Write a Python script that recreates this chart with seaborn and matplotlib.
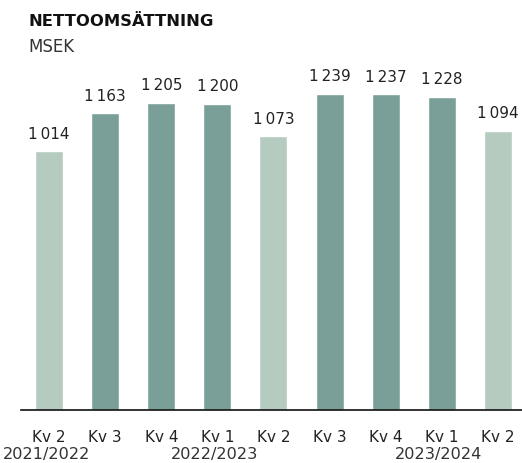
import matplotlib
matplotlib.use('Agg')

import matplotlib.pyplot as plt
import seaborn as sns
import pandas as pd

quarters = ["Kv 2", "Kv 3", "Kv 4", "Kv 1", "Kv 2", "Kv 3", "Kv 4", "Kv 1", "Kv 2"]
sales = [1014, 1163, 1205, 1200, 1073, 1239, 1237, 1228, 1094]
years = ["2021/2022", "", "", "2022/2023", "", "", "", "2023/2024", ""]
is_q2 = [True, False, False, False, True, False, False, False, True]

LIGHT = "#b6cbc0"
DARK = "#7a9f99"

df = pd.DataFrame({"pos": range(len(sales)), "sales": sales})
colors = [LIGHT if q else DARK for q in is_q2]

sns.set_style("white")
plt.rcParams['font.family'] = ['DejaVu Sans']

fig = plt.figure(figsize=(5.22, 4.64), dpi=100)
ax = fig.add_axes([21 / 522, (464 - 411) / 464, 501 / 522, 351 / 464])

sns.barplot(data=df, x="pos", y="sales", hue="pos", palette=colors,
            legend=False, width=0.5, saturation=1, ax=ax, native_scale=True)

ax.set_xlim(-0.5, 8.43)
ax.set_ylim(0, 1376)
for s in ["top", "right", "left"]:
    ax.spines[s].set_visible(False)
ax.spines["bottom"].set_color("#111111")
ax.spines["bottom"].set_linewidth(1.2)
ax.set_yticks([])
ax.set_xlabel("")
ax.set_ylabel("")
ax.set_xticks(range(len(quarters)))
ax.set_xticklabels(quarters, fontsize=11, color="#222222")
ax.tick_params(axis="x", length=0, pad=14)

# belopp ovanför staplarna
for i, v in enumerate(sales):
    label = f"{v:,}".replace(",", "\u2009")
    ax.text(i, v + 42, label, ha="center", va="bottom", fontsize=11, color="#222222")

# räkenskapsår under kvartalen
for i, y in enumerate(years):
    if y:
        ax.text(i - 0.05, -0.124, y, transform=ax.get_xaxis_transform(), ha="center",
                va="center", fontsize=11.6, color="#333333")

fig.text(28 / 522, 1 - 21 / 464, "NETTOOMSÄTTNING", fontsize=11.8, fontweight="bold",
         color="#111111", va="center", ha="left")
fig.text(28 / 522, 1 - 47 / 464, "MSEK", fontsize=12, color="#333333",
         va="center", ha="left")

fig.savefig("out.png", dpi=100)
